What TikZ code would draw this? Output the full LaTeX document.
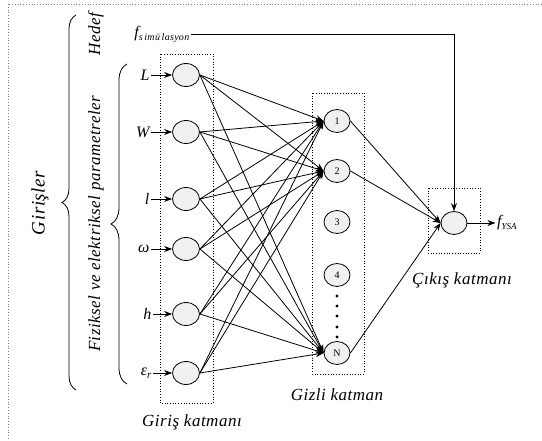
\documentclass[tikz,border=0pt]{standalone}
\usepackage{fontspec}
\setmainfont{Liberation Serif}
\newfontfamily\spacedserif[LetterSpace=3]{Liberation Serif}
\usetikzlibrary{positioning,arrows.meta,shapes.geometric,decorations.pathreplacing}

\begin{document}
\begin{tikzpicture}[
  x=1pt, y=1pt,
  neuron/.style={ellipse, draw, fill=gray!12, minimum width=27pt, minimum height=23pt, inner sep=0pt, line width=0.8pt, font=\fontsize{10}{11}\selectfont},
  layerbox/.style={draw, dotted, line width=0.7pt},
  link/.style={-{Stealth[length=8pt,width=6pt]}, line width=0.8pt},
  layerlabel/.style={font=\spacedserif\fontsize{17}{19}\selectfont\itshape},
  var/.style={font=\fontsize{16}{17}\selectfont\itshape, inner sep=1.5pt},
  bracket/.style={decorate, decoration={brace, amplitude=#1}, line width=0.8pt}
]
\useasboundingbox (0,0) rectangle (542,441);
\draw[dotted, gray, line width=0.8pt] (8,437) rectangle (560,-20);

\node[neuron] (inL) at (186,366) {};
\node[neuron] (inW) at (186,309) {};
\node[neuron] (inl) at (186,242) {};
\node[neuron] (inw) at (186,192) {};
\node[neuron] (inh) at (186,127) {};
\node[neuron] (ine) at (186,68) {};

\node[var, left=21pt of inL] (vL) {L};
\node[var, left=21pt of inW] (vW) {W};
\node[var, left=21pt of inl] (vl) {l};
\node[var, left=21pt of inw] (vw) {ω};
\node[var, left=19pt of inh] (vh) {h};
\node[var, left=19pt of ine] (ve) {ε\raisebox{-3pt}{\fontsize{11}{11}\selectfont r}};

\node[neuron, minimum width=26pt] (h1) at (337,320) {1};
\node[neuron, minimum width=26pt] (h2) at (337,270) {2};
\node[neuron, minimum width=26pt] (h3) at (337,219) {3};
\node[neuron, minimum width=26pt] (h4) at (337,166) {4};
\node[neuron, minimum width=26pt] (hN) at (337,88) {N};
\foreach \y in {145,135,125,114,104}
  \fill (337,\y) circle (1.6pt);

\node[neuron, minimum width=26pt] (out) at (454,218) {};
\node[var, right=28pt of out] (fysa) {f\raisebox{-3pt}{\fontsize{9}{9}\selectfont YSA}};
\node[var, anchor=east] (fsim) at (191,407) {f\raisebox{-3pt}{\spacedserif\fontsize{10}{10}\selectfont\itshape s\,imü\,lasyon}};

\draw[layerbox] (160,387) rectangle (213,38);
\draw[layerbox] (312,348) rectangle (364,67);
\draw[layerbox] (428,253) rectangle (480,188);

\foreach \v/\n in {vL/inL,vW/inW,vl/inl,vw/inw,vh/inh,ve/ine}
  \draw[link] (\v) -- (\n);
\foreach \i in {inL,inW,inl,inw,inh,ine}
  \foreach \j in {h1,h2,hN}
    \draw[link] (\i.east) -- (\j.west);
\foreach \j in {h1,h2,hN}
  \draw[link] (\j.east) -- (out.west);
\draw[link] (fsim.east) -| (out.north);
\draw[link] (out) -- (fysa);

\node[layerlabel] (lblIn) at (192,19) {Giriş katmanı};
\node[layerlabel] (lblHid) at (337,46) {Gizli katman};
\node[layerlabel] (lblOut) at (462,161) {Çıkış katmanı};

\draw[bracket=14pt] (76,51) -- (76,426);
\draw[bracket=16pt] (127,57) -- (127,377);
\node[layerlabel, rotate=90, font=\spacedserif\fontsize{19}{21}\selectfont\itshape] (girisler) at (40,238) {Girişler};
\node[layerlabel, rotate=90] (hedef) at (96,407) {Hedef};
\node[layerlabel, rotate=90] (fizik) at (96,217) {Fiziksel ve elektriksel parametreler};
\end{tikzpicture}
\end{document}
